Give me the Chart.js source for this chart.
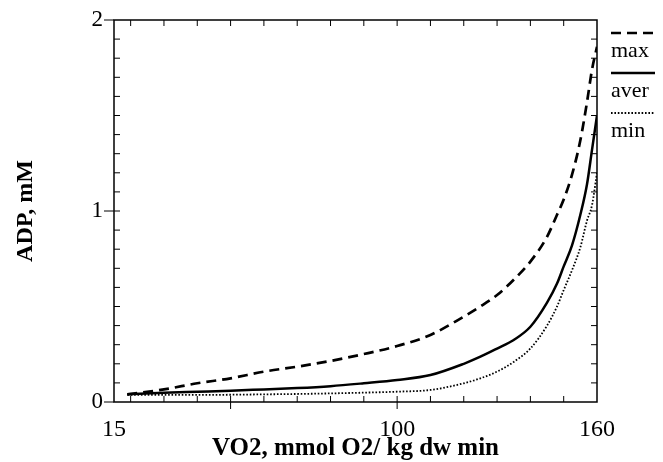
<!DOCTYPE html>
<html>
<head>
<meta charset="utf-8">
<script src="https://cdn.jsdelivr.net/npm/chart.js@4.4.1/dist/chart.umd.min.js"></script>
<style>
  html, body { margin: 0; padding: 0; background: #fff; }
  #wrap { width: 663px; height: 462px; }
</style>
</head>
<body>
<div id="wrap"><canvas id="chart"></canvas></div>
<script>
// values
const vo2     = [19, 30, 40, 50, 60, 70, 80, 90, 100, 110, 120, 125, 130, 135, 140, 145, 148, 150, 152.5, 155, 157, 158.5, 160];
const adpMax  = [0.04, 0.066, 0.098, 0.124, 0.159, 0.185, 0.215, 0.251, 0.293, 0.351, 0.447, 0.50, 0.56, 0.64, 0.735, 0.865, 0.98, 1.06, 1.19, 1.37, 1.57, 1.74, 1.86];
const adpAver = [0.04, 0.049, 0.054, 0.059, 0.066, 0.073, 0.083, 0.098, 0.115, 0.141, 0.20, 0.237, 0.28, 0.325, 0.394, 0.52, 0.62, 0.71, 0.82, 0.98, 1.14, 1.32, 1.5];
const adpMin  = [0.037, 0.037, 0.037, 0.038, 0.04, 0.042, 0.045, 0.049, 0.054, 0.063, 0.098, 0.124, 0.159, 0.21, 0.28, 0.40, 0.50, 0.586, 0.69, 0.81, 0.95, 1.03, 1.2];
const seriesLabels = ['max', 'aver', 'min'];
const xTickLabels = [15, 100, 160];
const yTickLabels = [0, 1, 2];

const serif = '"Liberation Serif", "Times New Roman", serif';

const toPoints = (ys) => vo2.map((v, i) => ({ x: v, y: ys[i] }));

// box round the plot with inward ticks on all four sides
const boxTicks = {
  id: 'boxTicks',
  afterDraw(chart) {
    const { ctx, chartArea: a, scales: { x, y } } = chart;
    ctx.save();
    ctx.strokeStyle = '#000';
    ctx.lineWidth = 1.5;
    ctx.strokeRect(a.left, a.top, a.right - a.left, a.bottom - a.top);
    ctx.lineWidth = 1;
    ctx.beginPath();
    for (let i = 2; i < 16; i++) {
      const px = x.getPixelForValue(i * 10);
      ctx.moveTo(px, a.bottom); ctx.lineTo(px, a.bottom - 6);
      ctx.moveTo(px, a.top); ctx.lineTo(px, a.top + 6);
    }
    for (let i = 1; i < 20; i++) {
      const py = y.getPixelForValue(i / 10);
      ctx.moveTo(a.left, py); ctx.lineTo(a.left + 6, py);
      ctx.moveTo(a.right, py); ctx.lineTo(a.right - 6, py);
    }
    [50, 100].forEach(v => {
      const px = x.getPixelForValue(v);
      ctx.moveTo(px, a.bottom + 7); ctx.lineTo(px, a.bottom);
    });
    yTickLabels.forEach(v => {
      const py = y.getPixelForValue(v);
      ctx.moveTo(a.left - 10, py); ctx.lineTo(a.left, py);
    });
    ctx.stroke();
    ctx.restore();
  }
};

// legend: line sample above each label, right of the plot
const legendBlock = {
  id: 'legendBlock',
  afterDraw(chart) {
    const { ctx, chartArea: a } = chart;
    const x0 = a.right + 14, x1 = a.right + 58;
    chart.data.datasets.forEach((ds, i) => {
      const ly = a.top + 13 + i * 40;
      ctx.save();
      ctx.strokeStyle = ds.borderColor;
      ctx.lineWidth = ds.borderWidth;
      ctx.setLineDash(ds.borderDash || []);
      ctx.beginPath();
      ctx.moveTo(x0, ly);
      ctx.lineTo(x1, ly);
      ctx.stroke();
      ctx.setLineDash([]);
      ctx.fillStyle = '#000';
      ctx.font = '22px ' + serif;
      ctx.textAlign = 'left';
      ctx.textBaseline = 'middle';
      ctx.fillText(ds.label, x0, ly + 18);
      ctx.restore();
    });
  }
};

new Chart(document.getElementById('chart'), {
  type: 'line',
  data: {
    datasets: [
      { label: seriesLabels[0], data: toPoints(adpMax), borderColor: '#000', borderWidth: 2.7, borderDash: [10, 6], pointRadius: 0, cubicInterpolationMode: 'monotone', fill: false },
      { label: seriesLabels[1], data: toPoints(adpAver), borderColor: '#000', borderWidth: 2.5, pointRadius: 0, cubicInterpolationMode: 'monotone', fill: false },
      { label: seriesLabels[2], data: toPoints(adpMin), borderColor: '#000', borderWidth: 1.8, borderDash: [1.6, 1.8], pointRadius: 0, cubicInterpolationMode: 'monotone', fill: false },
    ],
  },
  options: {
    responsive: true,
    maintainAspectRatio: false,
    animation: false,
    layout: { padding: { top: 20, right: 66, left: 0, bottom: 0 } },
    plugins: { legend: { display: false }, tooltip: { enabled: false } },
    scales: {
      x: {
        type: 'linear',
        min: 15,
        max: 160,
        afterFit: (s) => { s.height = 60; s.paddingLeft = 0; s.paddingRight = 0; },
        afterBuildTicks: (s) => { s.ticks = xTickLabels.map(v => ({ value: v })); },
        grid: { display: false, drawTicks: false },
        border: { display: false },
        ticks: { color: '#000', padding: 13, autoSkip: false, maxRotation: 0, font: { family: serif, size: 24 } },
        title: {
          display: true,
          text: 'VO2, mmol O2/ kg dw min',
          color: '#000',
          font: { family: serif, size: 25, weight: 'bold', lineHeight: 0.8 },
          padding: { top: 0, bottom: 3 },
        },
      },
      y: {
        min: 0,
        max: 2,
        afterFit: (s) => { s.width = 114; s.paddingTop = 0; s.paddingBottom = 0; },
        afterBuildTicks: (s) => { s.ticks = yTickLabels.map(v => ({ value: v })); },
        grid: { display: false, drawTicks: false },
        border: { display: false },
        ticks: { color: '#000', padding: 11, font: { family: serif, size: 23 } },
        title: {
          display: true,
          text: 'ADP, mM',
          color: '#000',
          font: { family: serif, size: 24, weight: 'bold', lineHeight: 1 },
          padding: { top: 14, bottom: 0 },
        },
      },
    },
  },
  plugins: [boxTicks, legendBlock],
});
</script>
</body>
</html>
